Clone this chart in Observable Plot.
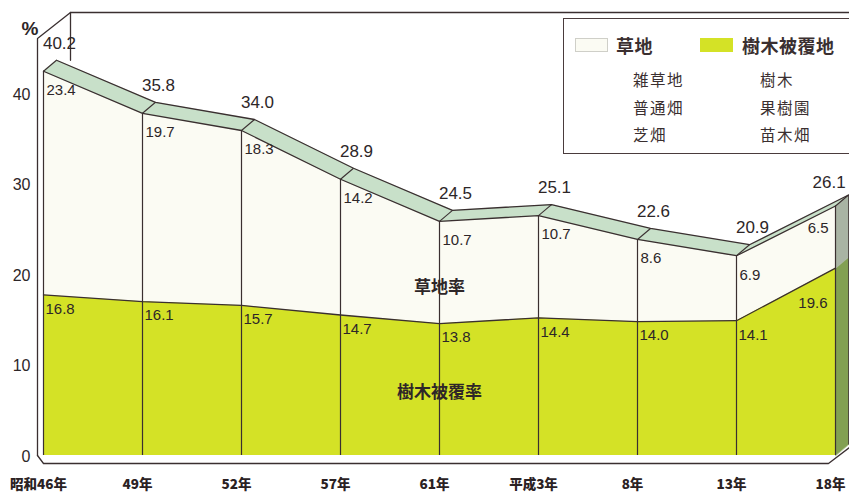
<!DOCTYPE html>
<html><head><meta charset="utf-8">
<script src="https://cdn.jsdelivr.net/npm/d3@7"></script>
<script src="https://cdn.jsdelivr.net/npm/@observablehq/plot@0.6"></script>
<style>
html,body{margin:0;padding:0;background:#fff;overflow:hidden;}
#wrap{position:relative;width:849px;height:497px;overflow:hidden;}
#legend{position:absolute;left:563px;top:18px;width:300px;height:136px;border:1.5px solid #4a3b3c;background:#fff;box-sizing:border-box;font-family:"Noto Sans CJK JP",sans-serif;color:#3a2f30;}
#legend span{position:absolute;white-space:nowrap;line-height:1;}
.sw{position:absolute;width:33px;height:14px;box-sizing:border-box;}
.hd{font-size:18px;font-weight:bold;letter-spacing:0.5px;}
.it{font-size:15.5px;letter-spacing:1.5px;}
</style></head>
<body><div id="wrap"></div>
<script>
// ---- data ----
const cats  = ["昭和46年","49年","52年","57年","61年","平成3年","8年","13年","18年"];
const total = [40.2,35.8,34.0,28.9,24.5,25.1,22.6,20.9,26.1];
const grass = [23.4,19.7,18.3,14.2,10.7,10.7,8.6,6.9,6.5];
const tree  = [16.8,16.1,15.7,14.7,13.8,14.4,14.0,14.1,19.6];
const yTicks = [0,10,20,30,40];
const legendHeads = ["草地","樹木被覆地"];
const legendGrass = ["雑草地","普通畑","芝畑"];
const legendTree  = ["樹木","果樹園","苗木畑"];
const areaNames = ["草地率","樹木被覆率"];

// ---- layout / style ----
const W=849,H=497,ML=43,MR=14,MT=0,MB=42,YMAX=47.6;
const n=cats.length, last=n-1;
const pxX=(W-ML-MR)/last, pxY=(H-MT-MB)/YMAX;
const ux=p=>p/pxX, uy=p=>p/pxY;       // pixel offsets -> data units
const DXU=ux(13), DYU=uy(11);          // depth of the 3D ribbon
const DARK="#3a2f30", LIME="#d4e226", MINT="#c8e0c9", CREAM="#fbfbf3",
      FACE_UP="#a9b4a4", FACE_LO="#82a052", TXT="#2d2628";

const rows = cats.map((c,i)=>({i,cat:c,total:total[i],grass:grass[i],tree:tree[i]}));
const head = rows.slice(0,last), tail=[rows[last]];

// ribbon polygons per segment
const band = rows.slice(0,last).flatMap((r,k)=>{const s=rows[k+1];return [
  {g:k,x:r.i,y:r.total},{g:k,x:s.i,y:s.total},{g:k,x:s.i+DXU,y:s.total+DYU},{g:k,x:r.i+DXU,y:r.total+DYU}];});
// right side face
const L=rows[last];
const face = [
  {g:"lo",f:FACE_LO,x:L.i,y:0},{g:"lo",f:FACE_LO,x:L.i,y:L.tree},{g:"lo",f:FACE_LO,x:L.i+DXU,y:L.tree+DYU},{g:"lo",f:FACE_LO,x:L.i+DXU,y:DYU},
  {g:"up",f:FACE_UP,x:L.i,y:L.tree},{g:"up",f:FACE_UP,x:L.i,y:L.total},{g:"up",f:FACE_UP,x:L.i+DXU,y:L.total+DYU},{g:"up",f:FACE_UP,x:L.i+DXU,y:L.tree+DYU}];
// box frame (back wall / left wall / floor), relative to the plot frame
const xL=-ux(6), xB=ux(27), yTop=YMAX-uy(12), yWall=YMAX-uy(38), yFloor=-uy(8);
const frameLines = [
  {g:1,x:xL,y:0},{g:1,x:xL,y:yWall},{g:1,x:xB,y:yTop},{g:1,x:last+ux(20),y:yTop},
  {g:2,x:xB,y:yTop},{g:2,x:xB,y:total[0]+DYU},
  {g:3,x:xL,y:0},{g:3,x:0,y:yFloor},{g:3,x:last-ux(7),y:yFloor},{g:3,x:last+ux(14),y:uy(8)}
];

const fontNum = "'Liberation Sans', Arial, sans-serif";
const fontJP = "'Noto Sans CJK JP', sans-serif";
const numStyle = {fontFamily:fontNum,fill:TXT,letterSpacing:"-0.6px",fontWeight:500};

const chart = Plot.plot({
  width:W,height:H,marginLeft:ML,marginRight:MR,marginTop:MT,marginBottom:MB,
  x:{type:"linear",domain:[0,last],axis:null},
  y:{domain:[0,YMAX],axis:null},
  style:{background:"transparent",overflow:"visible"},
  marks:[
    Plot.line(frameLines,{x:"x",y:"y",z:"g",stroke:DARK,strokeWidth:1.3}),
    Plot.areaY(rows,{x:"i",y1:0,y2:"tree",fill:LIME}),
    Plot.areaY(rows,{x:"i",y1:"tree",y2:"total",fill:CREAM}),
    Plot.line(band,{x:"x",y:"y",z:"g",fill:MINT,stroke:MINT,strokeWidth:0.6,curve:"linear-closed"}),
    Plot.line(face,{x:"x",y:"y",z:"g",fill:"f",stroke:"f",strokeWidth:0.5,curve:"linear-closed"}),
    Plot.ruleX(rows,{x:"i",y1:0,y2:"total",stroke:DARK,strokeWidth:1.2}),
    Plot.line(rows,{x:"i",y:"tree",stroke:DARK,strokeWidth:1.3}),
    Plot.line(rows,{x:"i",y:"total",stroke:DARK,strokeWidth:1.3}),
    Plot.line(rows,{x:d=>d.i+DXU,y:d=>d.total+DYU,stroke:DARK,strokeWidth:1.3}),
    Plot.link(rows,{x1:"i",y1:"total",x2:d=>d.i+DXU,y2:d=>d.total+DYU,stroke:DARK,strokeWidth:1.1}),
    Plot.link(tail,{x1:d=>d.i+DXU,y1:DYU,x2:d=>d.i+DXU,y2:d=>d.total+DYU,stroke:DARK,strokeWidth:0.8}),
    // y tick labels (drawn on the back wall)
    Plot.text(yTicks,{x:0,y:v=>v*0.946,dy:1,dx:-13,text:d=>String(d),textAnchor:"end",fontSize:16,...numStyle}),
    Plot.text(["%"],{frameAnchor:"top-left",dx:-22,dy:21,text:d=>d,fontSize:19,fontWeight:"bold",fontFamily:fontNum,fill:TXT}),
    // x category labels
    Plot.text(rows,{x:"i",frameAnchor:"bottom",dy:33,dx:-5,text:"cat",fontSize:13.5,fontWeight:900,fontFamily:fontJP,fill:"#2b2224",letterSpacing:"-1px"}),
    // totals
    Plot.text(head,{x:"i",y:"total",dx:16,dy:-28,text:d=>d.total.toFixed(1),fontSize:17,...numStyle}),
    Plot.text(tail,{x:"i",y:"total",dx:-23,dy:-23,textAnchor:"start",text:d=>d.total.toFixed(1),fontSize:17,...numStyle}),
    // grass values
    Plot.text(head,{x:"i",y:"total",dx:3,dy:19,textAnchor:"start",text:d=>d.grass.toFixed(1),fontSize:15,...numStyle}),
    Plot.text(tail,{x:"i",y:"total",dx:-7,dy:22,textAnchor:"end",text:d=>d.grass.toFixed(1),fontSize:15,...numStyle}),
    // tree values
    Plot.text(head,{x:"i",y:"tree",dx:2,dy:14,textAnchor:"start",text:d=>d.tree.toFixed(1),fontSize:15,...numStyle}),
    Plot.text(tail,{x:"i",y:"tree",dx:-8,dy:35,textAnchor:"end",text:d=>d.tree.toFixed(1),fontSize:15,...numStyle}),
    // area names
    Plot.text([rows[4]],{x:"i",y:d=>d.tree+d.grass*0.35,text:()=>areaNames[0],fontSize:17,fontWeight:"bold",fontFamily:fontJP,fill:"#2e2628",letterSpacing:"1px"}),
    Plot.text([rows[4]],{x:"i",y:d=>d.tree*0.48,text:()=>areaNames[1],fontSize:17,fontWeight:"bold",fontFamily:fontJP,fill:"#2e2628",letterSpacing:"1px"})
  ]
});
const wrap=document.getElementById("wrap");
wrap.appendChild(chart);

// legend (HTML overlay)
const lg=document.createElement("div");lg.id="legend";
const add=(html,cls,l,t,style="")=>{const s=document.createElement(cls==="sw"?"div":"span");s.className=cls;s.style.left=l+"px";s.style.top=t+"px";if(style)s.style.cssText+=style;if(html)s.textContent=html;lg.appendChild(s);};
add("","sw",11,19,"background:"+CREAM+";border:1px solid #cfcfc8;");
add(legendHeads[0],"hd",52,17);
add("","sw",136,19,"background:"+LIME+";");
add(legendHeads[1],"hd",178,17);
legendGrass.forEach((t,k)=>add(t,"it",69,53+k*27.5));
legendTree.forEach((t,k)=>add(t,"it",196,53+k*27.5));
wrap.appendChild(lg);
</script></body></html>
